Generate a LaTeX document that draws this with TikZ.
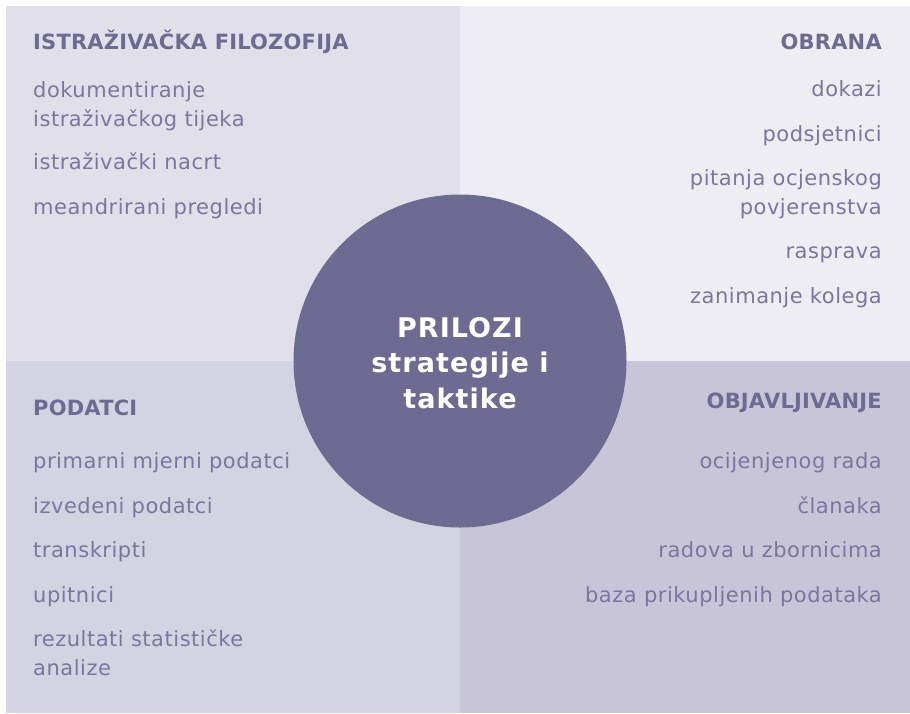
\documentclass[tikz,border=0pt]{standalone}
\usepackage{fontspec}
\setmainfont{DejaVu Sans}
\newfontfamily\itemfont[LetterSpace=2.5]{DejaVu Sans}
\newfontfamily\headfont[LetterSpace=1]{DejaVu Sans}
\newfontfamily\hubfont[LetterSpace=4]{DejaVu Sans}

\begin{document}
\begin{tikzpicture}[x=1pt, y=-1pt,
		head/.style={inner sep=0pt, font=\headfont\fontsize{21}{25}\selectfont\bfseries, text=headcolor},
		item/.style={inner sep=0pt, font=\itemfont\fontsize{21}{25}\selectfont, text=itemcolor},
		hub/.style={circle, fill=hubcolor, minimum size=333pt, inner sep=0pt}]
	\definecolor{hubcolor}{HTML}{6E6B93}
	\definecolor{headcolor}{HTML}{6E6B93}
	\definecolor{itemcolor}{HTML}{7A769D}
	\definecolor{tlcolor}{HTML}{E1E0EA}
	\definecolor{trcolor}{HTML}{EEEDF4}
	\definecolor{blcolor}{HTML}{D4D3E2}
	\definecolor{brcolor}{HTML}{C8C5D9}
	\useasboundingbox (0, 0) rectangle (910, 713);

	% quadrants
	\fill[tlcolor] (6, 6) rectangle (460, 361);
	\fill[trcolor] (460, 6) rectangle (910, 361);
	\fill[blcolor] (6, 361) rectangle (460, 713);
	\fill[brcolor] (460, 361) rectangle (910, 713);

	% top left
	\node[head, anchor=base west] (filozofija) at (33, 49) {ISTRAŽIVAČKA FILOZOFIJA};
	\node[item, anchor=base west] (tijek) at (33, 97) {dokumentiranje};
	\node[item, anchor=base west] (tijekb) at (33, 126) {istraživačkog tijeka};
	\node[item, anchor=base west] (nacrt) at (33, 169) {istraživački nacrt};
	\node[item, anchor=base west] (pregledi) at (33, 214) {meandrirani pregledi};

	% top right
	\node[head, anchor=base east] (obrana) at (882, 49) {OBRANA};
	\node[item, anchor=base east] (dokazi) at (882, 96) {dokazi};
	\node[item, anchor=base east] (podsjetnici) at (882, 141) {podsjetnici};
	\node[item, anchor=base east] (pitanja) at (882, 185) {pitanja ocjenskog};
	\node[item, anchor=base east] (pitanjab) at (882, 214) {povjerenstva};
	\node[item, anchor=base east] (rasprava) at (882, 258) {rasprava};
	\node[item, anchor=base east] (kolege) at (882, 303) {zanimanje kolega};

	% bottom left
	\node[head, anchor=base west] (podatci) at (33, 415) {PODATCI};
	\node[item, anchor=base west] (primarni) at (33, 468) {primarni mjerni podatci};
	\node[item, anchor=base west] (izvedeni) at (33, 513) {izvedeni podatci};
	\node[item, anchor=base west] (transkripti) at (33, 557) {transkripti};
	\node[item, anchor=base west] (upitnici) at (33, 602) {upitnici};
	\node[item, anchor=base west] (statistika) at (33, 646) {rezultati statističke};
	\node[item, anchor=base west] (statistikab) at (33, 675) {analize};

	% bottom right
	\node[head, anchor=base east] (objavljivanje) at (882, 408) {OBJAVLJIVANJE};
	\node[item, anchor=base east] (ocijenjeni) at (882, 468) {ocijenjenog rada};
	\node[item, anchor=base east] (clanci) at (882, 513) {članaka};
	\node[item, anchor=base east] (zbornici) at (882, 557) {radova u zbornicima};
	\node[item, anchor=base east] (baza) at (882, 602) {baza prikupljenih podataka};

	% centre
	\node[hub] (prilozi) at (460, 361) {};
	\begin{scope}[every node/.style={inner sep=0pt, anchor=base, text=white, font=\hubfont\fontsize{27}{32}\selectfont\bfseries}]
		\node (priloziA) at (460, 337) {PRILOZI};
		\node (priloziB) at (460, 372) {strategije i};
		\node (priloziC) at (460, 408) {taktike};
	\end{scope}
\end{tikzpicture}
\end{document}
